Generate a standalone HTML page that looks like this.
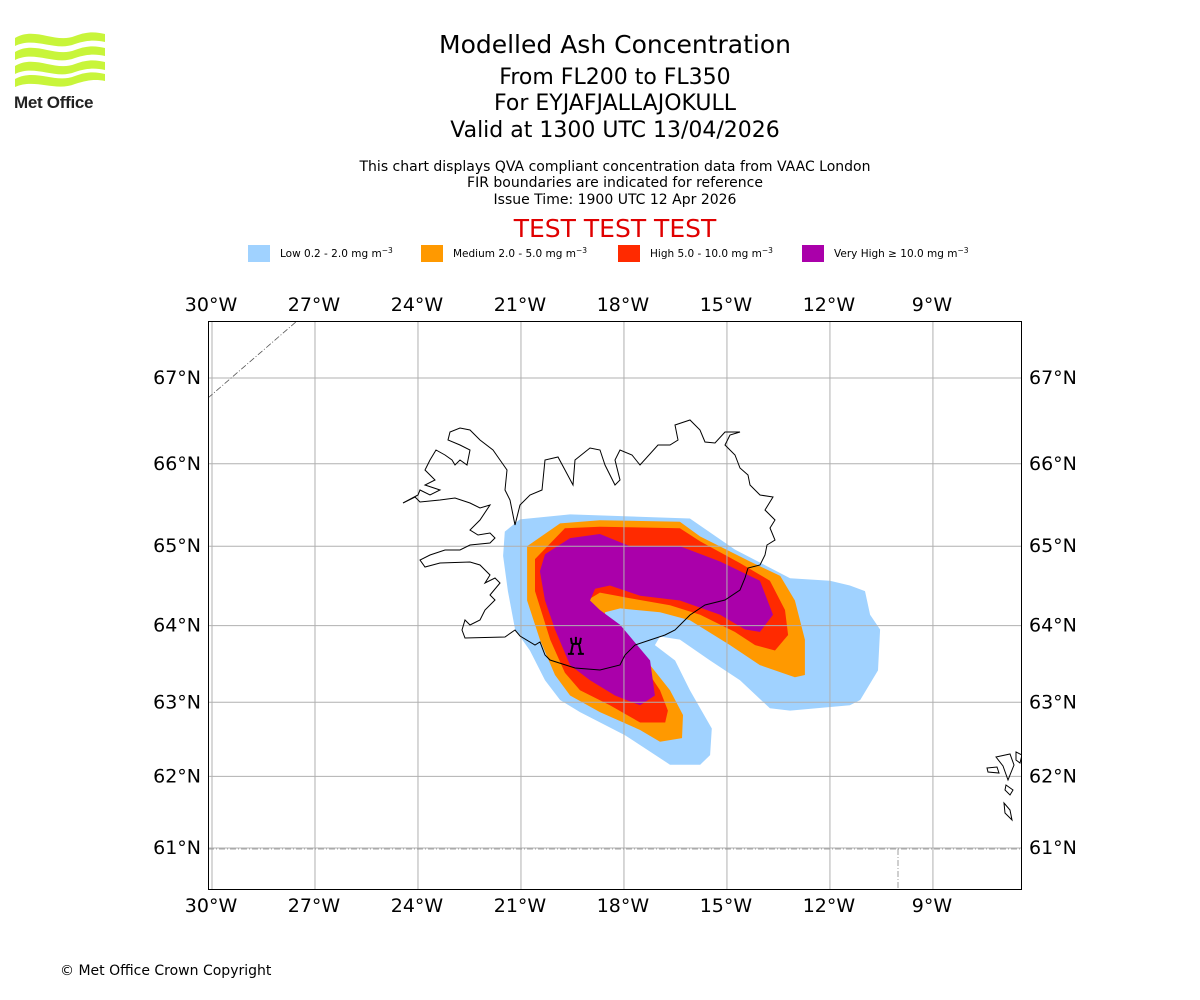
<!DOCTYPE html>
<html><head><meta charset="utf-8"><style>
body{margin:0;background:#fff;width:1200px;height:1000px;overflow:hidden;font-family:"Liberation Sans","DejaVu Sans",sans-serif}
svg{position:absolute;left:0;top:0}
</style></head><body>
<svg id="chart" width="1200" height="1000" viewBox="0 0 1200 1000" font-family="DejaVu Sans, Liberation Sans, sans-serif">
<g fill="#c8f53a">
<path d="M15 38 C35 26 55 44 75 36 C88 31 96 32 105 34 L105 42 C95 40 88 40 75 44 C55 52 35 36 15 46Z"/>
<path d="M15 52 C35 40 55 58 75 50 C88 45 96 46 105 48 L105 56 C95 54 88 54 75 58 C55 66 35 50 15 60Z"/>
<path d="M15 66 C35 54 55 72 75 64 C88 59 96 60 105 62 L105 70 C95 68 88 68 75 72 C55 80 35 64 15 74Z"/>
<path d="M15 79 C35 68 55 84 75 76 C88 71 96 72 105 74 L105 81 C95 79 88 80 75 84 C55 92 35 78 15 87Z"/>
<text x="14" y="108" font-size="17" font-weight="bold" fill="#222" font-family="Liberation Sans, sans-serif" letter-spacing="-0.3">Met Office</text>
</g>
<g text-anchor="middle" fill="#000">
<text x="615" y="53" font-size="25">Modelled Ash Concentration</text>
<text x="615" y="84" font-size="22">From FL200 to FL350</text>
<text x="615" y="110" font-size="22">For EYJAFJALLAJOKULL</text>
<text x="615" y="137" font-size="22">Valid at 1300 UTC 13/04/2026</text>
<text x="615" y="171" font-size="14">This chart displays QVA compliant concentration data from VAAC London</text>
<text x="615" y="187" font-size="14">FIR boundaries are indicated for reference</text>
<text x="615" y="204" font-size="14">Issue Time: 1900 UTC 12 Apr 2026</text>
<text x="615" y="237" font-size="25" fill="#e00000">TEST TEST TEST</text>
</g>
<g id="legend" font-size="10.5"></g>
<g id="plot"></g>
<text x="60" y="975" font-size="14">© Met Office Crown Copyright</text>
</svg>
<script>
const lonTicks=[-30,-27,-24,-21,-18,-15,-12,-9];
const latTicks=[61,62,63,64,65,66,67];
const levelNames=["Low 0.2 - 2.0 mg m","Medium 2.0 - 5.0 mg m","High 5.0 - 10.0 mg m","Very High \u2265 10.0 mg m"];
const levelColors=["#a0d2ff","#ff9900","#ff2a00","#aa00aa"];
const lowLon=[-21.47,-21.03,-19.57,-16.08,-14.77,-13.16,-12.0,-11.42,-10.98,-10.83,-10.54,-10.60,-11.12,-11.42,-13.16,-13.75,-14.62,-15.49,-16.37,-16.95,-17.10,-16.51,-16.08,-15.44,-15.49,-15.78,-16.66,-17.97,-19.28,-19.86,-20.30,-20.74,-21.17,-21.38,-21.52];
const lowLat=[65.18,65.33,65.39,65.34,64.96,64.60,64.57,64.51,64.44,64.14,63.95,63.42,63.03,62.96,62.89,62.92,63.29,63.55,63.82,63.86,63.75,63.55,63.16,62.65,62.29,62.16,62.16,62.56,62.87,63.03,63.29,63.68,63.95,64.44,64.88];
const medLon=[-20.82,-19.86,-18.70,-16.37,-15.78,-14.33,-13.45,-13.02,-12.73,-12.73,-13.02,-14.04,-14.91,-16.08,-16.95,-18.11,-18.55,-18.55,-18.11,-17.24,-16.66,-16.28,-16.31,-16.95,-17.53,-18.70,-19.57,-20.01,-20.45,-20.82];
const medLat=[65.0,65.28,65.32,65.30,65.12,64.81,64.63,64.32,63.82,63.36,63.33,63.49,63.75,64.07,64.17,64.22,64.17,64.07,63.88,63.49,63.16,62.83,62.52,62.47,62.63,62.87,63.09,63.36,63.82,64.32];
const highLon=[-20.59,-19.72,-18.70,-16.37,-15.78,-14.62,-13.75,-13.31,-13.22,-13.60,-14.18,-14.77,-15.78,-16.66,-17.82,-18.70,-19.08,-18.99,-18.41,-17.53,-16.95,-16.72,-16.80,-17.53,-18.41,-19.28,-19.72,-20.15,-20.59];
const highLat=[64.84,65.22,65.24,65.22,65.06,64.79,64.57,64.20,63.88,63.68,63.75,63.92,64.14,64.26,64.35,64.42,64.32,64.14,63.95,63.55,63.16,62.89,62.73,62.73,62.96,63.16,63.39,63.82,64.44];
const vhLon=[-20.45,-20.30,-19.57,-18.70,-17.82,-16.37,-15.20,-14.04,-13.66,-14.04,-14.47,-15.20,-16.37,-17.53,-18.41,-18.84,-18.99,-18.70,-18.11,-17.24,-17.10,-17.53,-18.26,-18.99,-19.57,-20.01,-20.30];
const vhLat=[64.69,64.90,65.10,65.15,65.0,65.0,64.81,64.57,64.14,63.92,63.95,64.14,64.32,64.38,64.51,64.47,64.32,64.20,64.01,63.55,63.09,62.96,63.09,63.29,63.49,63.95,64.32];
const volcanoLon=-19.4, volcanoLat=63.74;

const NS="http://www.w3.org/2000/svg";
const X0=208,X1=1022,Y0=321,Y1=890;
function merc(lat){return Math.log(Math.tan(Math.PI/4+lat*Math.PI/360));}
function xs(lon){return 212+(lon+30)*34.33;}
function ys(lat){return 848-(merc(lat)-merc(61))*1959;}
function el(tag,attrs,parent){const e=document.createElementNS(NS,tag);for(const k in attrs)e.setAttribute(k,attrs[k]);parent.appendChild(e);return e;}
const plot=document.getElementById('plot');
const legend=document.getElementById('legend');

const lgX=[248,421,618,802];
levelNames.forEach((n,i)=>{
  const r=el('rect',{x:lgX[i],y:245,width:22,height:17,fill:levelColors[i]},legend);
  
  
  const t=el('text',{x:lgX[i]+32,y:257},legend);
  
  
  t.textContent=n;
  const s=el('tspan',{dy:-4,'font-size':7.5},t);s.textContent='\u22123';
});

const defs=el('defs',{},plot);
const cp=el('clipPath',{id:'clip'},defs);
el('rect',{x:X0,y:Y0,width:X1-X0,height:Y1-Y0},cp);
const inner=el('g',{'clip-path':'url(#clip)'},plot);

[[lowLon,lowLat],[medLon,medLat],[highLon,highLat],[vhLon,vhLat]].forEach((p,i)=>{
  const pts=p[0].map((lo,j)=>xs(lo).toFixed(1)+','+ys(p[1][j]).toFixed(1)).join(' ');
  const pg=el('polygon',{points:pts,fill:levelColors[i]},inner);
  
  
});

lonTicks.forEach(l=>{el('line',{x1:xs(l),x2:xs(l),y1:Y0,y2:Y1,stroke:'#b0b0b0','stroke-width':1},inner);});
latTicks.forEach(l=>{el('line',{x1:X0,x2:X1,y1:ys(l),y2:ys(l),stroke:'#b0b0b0','stroke-width':1},inner);});

const coast="M403,503 L415,497 420,502 440,500 455,498 470,503 480,508 490,505 480,520 470,530 478,535 490,533 495,538 490,543 470,545 460,550 445,550 430,555 420,560 425,567 440,563 470,562 480,565 490,575 485,583 495,578 500,583 490,595 495,600 485,610 480,620 470,625 465,620 462,630 465,638 505,637 515,630 520,636 535,645 540,642 545,655 550,660 575,668 600,670 620,665 625,655 635,645 650,640 665,635 675,630 690,615 705,605 725,600 740,590 745,578 748,568 760,565 765,555 767,545 775,540 770,528 775,520 765,510 773,497 760,495 750,485 748,475 740,468 735,455 725,445 730,435 740,432 725,432 715,443 705,442 700,430 690,420 675,425 678,440 670,445 658,445 640,465 632,455 620,450 615,460 620,480 615,485 605,465 600,450 590,448 575,460 573,485 565,470 558,457 545,460 542,490 530,495 520,505 515,525 510,500 505,490 507,470 500,460 493,450 480,440 470,430 460,428 450,432 448,440 460,445 470,450 467,465 460,460 455,465 452,460 445,455 436,450 430,460 425,470 435,480 425,485 440,490 430,495 420,490 418,495 Z";
const c=el('path',{d:coast,fill:'none',stroke:'#000','stroke-width':1},inner);


const far=el('path',{d:"M996,757 L1010,754 1014,765 1008,780 1003,766Z M987,768 L997,767 999,773 988,772Z M1006,785 L1013,790 1010,795 1005,790Z M1004,803 L1010,810 1012,820 1005,813Z M1016,752 L1022,755 1020,763 1016,760Z",fill:'none',stroke:'#000','stroke-width':1},inner);



el('line',{x1:X0,y1:398,x2:297,y2:321,stroke:'#555','stroke-width':0.8,'stroke-dasharray':'6,2,1,2'},inner);
el('line',{x1:X0,y1:849,x2:X1,y2:849,stroke:'#888','stroke-width':0.8,'stroke-dasharray':'6,2,1,2'},inner);
el('line',{x1:898,y1:849,x2:898,y2:Y1,stroke:'#888','stroke-width':0.8,'stroke-dasharray':'6,2,1,2'},inner);

const vx=xs(volcanoLon),vy=ys(volcanoLat);
const v=el('path',{d:`M${vx-5},${vy+8} L${vx-3},${vy-2} L${vx+3},${vy-2} L${vx+5},${vy+8} M${vx-8},${vy+8} L${vx-2},${vy+8} M${vx+2},${vy+8} L${vx+8},${vy+8} M${vx-4},${vy-2} L${vx-5},${vy-8} M${vx},${vy-2} L${vx},${vy-9} M${vx+4},${vy-2} L${vx+5},${vy-8}`,fill:'none',stroke:'#000','stroke-width':2},plot);



el('rect',{x:X0+0.5,y:Y0+0.5,width:X1-X0-1,height:Y1-Y0-1,fill:'none',stroke:'#000','stroke-width':1},plot);

lonTicks.forEach(l=>{
  const lab=Math.abs(l)+'\u00b0W';
  [[311],[912]].forEach(([yy],k)=>{
    const t=el('text',{x:xs(l)-1,y:yy,'font-size':19,'text-anchor':'middle'},plot);
    
    
    t.textContent=lab;
  });
});
latTicks.forEach(l=>{
  const lab=l+'\u00b0N';
  const t1=el('text',{x:201,y:ys(l)+6,'font-size':19,'text-anchor':'end'},plot);
  
  
  t1.textContent=lab;
  const t2=el('text',{x:1029,y:ys(l)+6,'font-size':19,'text-anchor':'start'},plot);
  
  
  t2.textContent=lab;
});
</script>
</body></html>
